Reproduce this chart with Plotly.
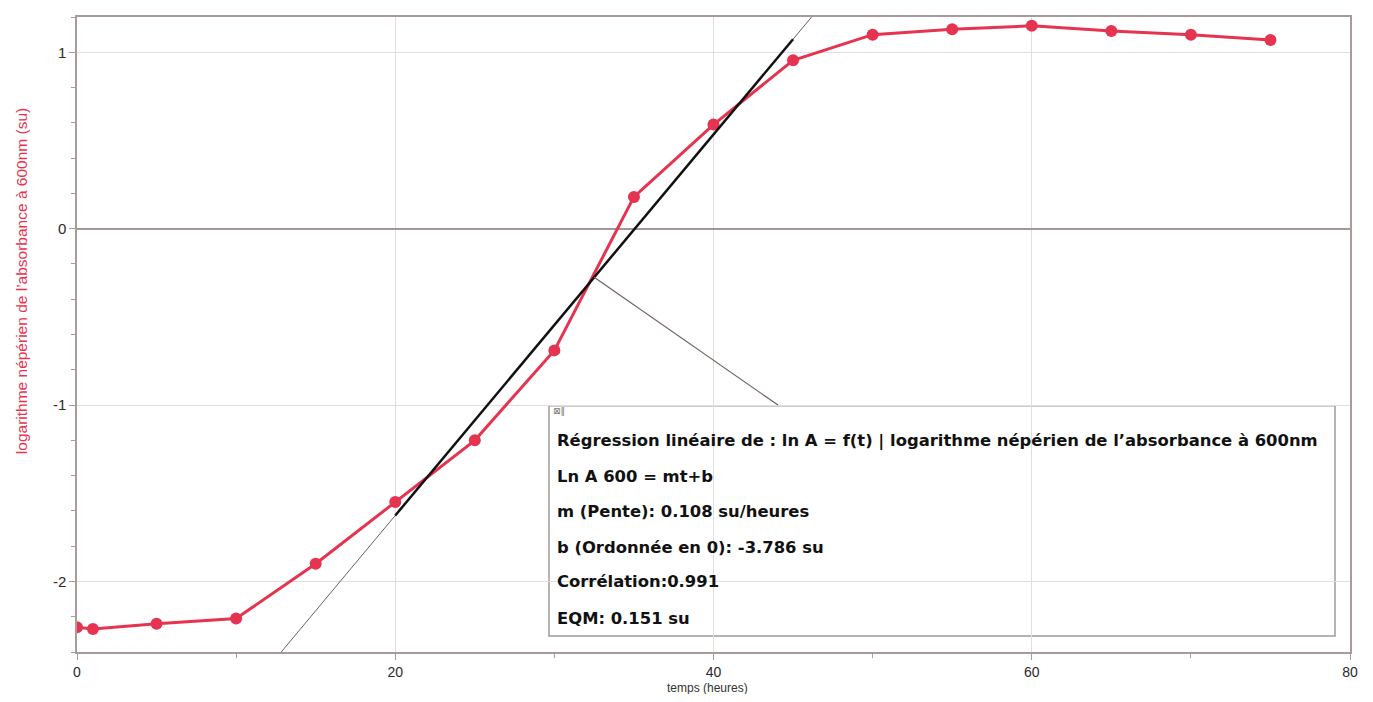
import plotly.graph_objects as go

# Data
temps = [0, 1, 5, 10, 15, 20, 25, 30, 35, 40, 45, 50, 55, 60, 65, 70, 75]
ln_a = [-2.26, -2.27, -2.24, -2.21, -1.90, -1.55, -1.20, -0.69, 0.18, 0.59, 0.955,
        1.10, 1.13, 1.15, 1.12, 1.10, 1.07]

pente = 0.108
ordonnee = -3.786
fit_t = [20, 45]
ext_t = [0, 80]
leader_t = 32.5
leader_end = (44.05, -1.0)

x_ticks = [0, 20, 40, 60, 80]
x_ticklabels = ["0", "20", "40", "60", "80"]
y_ticks = [-2, -1, 0, 1]
y_ticklabels = ["-2", "-1", "0", "1"]

box_lines = [
    "Régression linéaire de : ln A = f(t) | logarithme népérien de l’absorbance à 600nm",
    "Ln A 600 = mt+b",
    "m (Pente): 0.108 su/heures",
    "b (Ordonnée en 0): -3.786 su",
    "Corrélation:0.991",
    "EQM: 0.151 su",
]

RED = "#e6334f"
AXIS = "#a89c9a"
GRID = "#e2dede"
FONT = "Liberation Sans, Arial, sans-serif"
BOXFONT = "DejaVu Sans, Liberation Sans, sans-serif"

# page body has an 8px margin: figure origin is at (8, 8) in the window
OFF = 8
W, H = 1357, 686
L, R, T, B = 77 - OFF, W - (1350 - OFF), 15 - OFF, H - (652 - OFF)
PW, PH = W - L - R, H - T - B


def px_x(x):
    return (x - OFF - L) / PW


def px_y(y):
    return (H - B - (y - OFF)) / PH


fig = go.Figure()

# thin extension of regression line
fig.add_trace(go.Scatter(
    x=ext_t, y=[pente * t + ordonnee for t in ext_t], mode="lines",
    line=dict(color="#6b625f", width=1), hoverinfo="skip", showlegend=False))

# data
fig.add_trace(go.Scatter(
    x=temps, y=ln_a, mode="lines+markers",
    line=dict(color=RED, width=3),
    marker=dict(color=RED, size=12),
    showlegend=False))

# regression segment
fig.add_trace(go.Scatter(
    x=fit_t, y=[pente * t + ordonnee for t in fit_t], mode="lines",
    line=dict(color="#111111", width=2.5), hoverinfo="skip", showlegend=False))

shapes = [
    dict(type="rect", xref="paper", yref="paper",
         x0=px_x(549), x1=px_x(1335), y0=px_y(636), y1=px_y(405),
         line=dict(color="#9e9a9a", width=1.5), fillcolor="rgba(255,255,255,0)", layer="below"),
    dict(type="line", xref="x", yref="y",
         x0=leader_t, y0=pente * leader_t + ordonnee, x1=leader_end[0], y1=leader_end[1],
         line=dict(color="#6f625c", width=1.2)),
]

annotations = []
line_y = [440, 476, 511, 547, 581, 618]
for txt, yy in zip(box_lines, line_y):
    annotations.append(dict(
        text="<b>" + txt + "</b>", xref="paper", yref="paper", x=px_x(555), y=px_y(yy),
        xanchor="left", yanchor="middle", showarrow=False,
        font=dict(family=BOXFONT, size=16.4, color="#111111")))

# small icon in box corner
annotations.append(dict(
    text="⊠‖", xref="paper", yref="paper", x=px_x(551), y=px_y(410),
    xanchor="left", yanchor="middle", showarrow=False,
    font=dict(family="DejaVu Sans", size=9, color="#777777")))

# y title
annotations.append(dict(
    text="logarithme népérien de l’absorbance à 600nm (su)", xref="paper", yref="paper",
    x=px_x(21), y=px_y(280), xanchor="center", yanchor="middle", textangle=-90,
    showarrow=False, font=dict(family=FONT, size=15.5, color=RED)))

# x title
annotations.append(dict(
    text="temps (heures)", xref="paper", yref="paper",
    x=px_x(707), y=px_y(688), xanchor="center", yanchor="middle", borderpad=0,
    showarrow=False, font=dict(family=FONT, size=12, color="#333333")))

fig.update_layout(
    width=W, height=H,
    margin=dict(l=L, r=R, t=T, b=B),
    paper_bgcolor="white", plot_bgcolor="white",
    shapes=shapes, annotations=annotations,
    font=dict(family=FONT),
    xaxis=dict(range=[0, 80], tickvals=x_ticks, ticktext=x_ticklabels, ticks="outside", ticklen=6,
               tickcolor=AXIS, showline=True, linecolor=AXIS, linewidth=1.5, mirror=True,
               showgrid=True, gridcolor=GRID, gridwidth=1, zeroline=False,
               tickfont=dict(family=FONT, size=14, color="#2a2a2a"),
               minor=dict(tickvals=[10, 30, 50, 70], ticks="outside", ticklen=4, tickcolor=AXIS,
                          showgrid=False)),
    yaxis=dict(range=[-2.40, 1.20], tickvals=y_ticks, ticktext=y_ticklabels, ticks="outside", ticklen=6,
               tickcolor=AXIS, showline=True, linecolor=AXIS, linewidth=1.5, mirror=True,
               showgrid=True, gridcolor=GRID, gridwidth=1,
               zeroline=True, zerolinecolor="#a39896", zerolinewidth=2,
               tickfont=dict(family=FONT, size=15, color="#2a2a2a"),
               minor=dict(dtick=0.2, tick0=0, ticks="outside", ticklen=4, tickcolor=AXIS,
                          showgrid=False)),
)

fig.write_html("out.html")
